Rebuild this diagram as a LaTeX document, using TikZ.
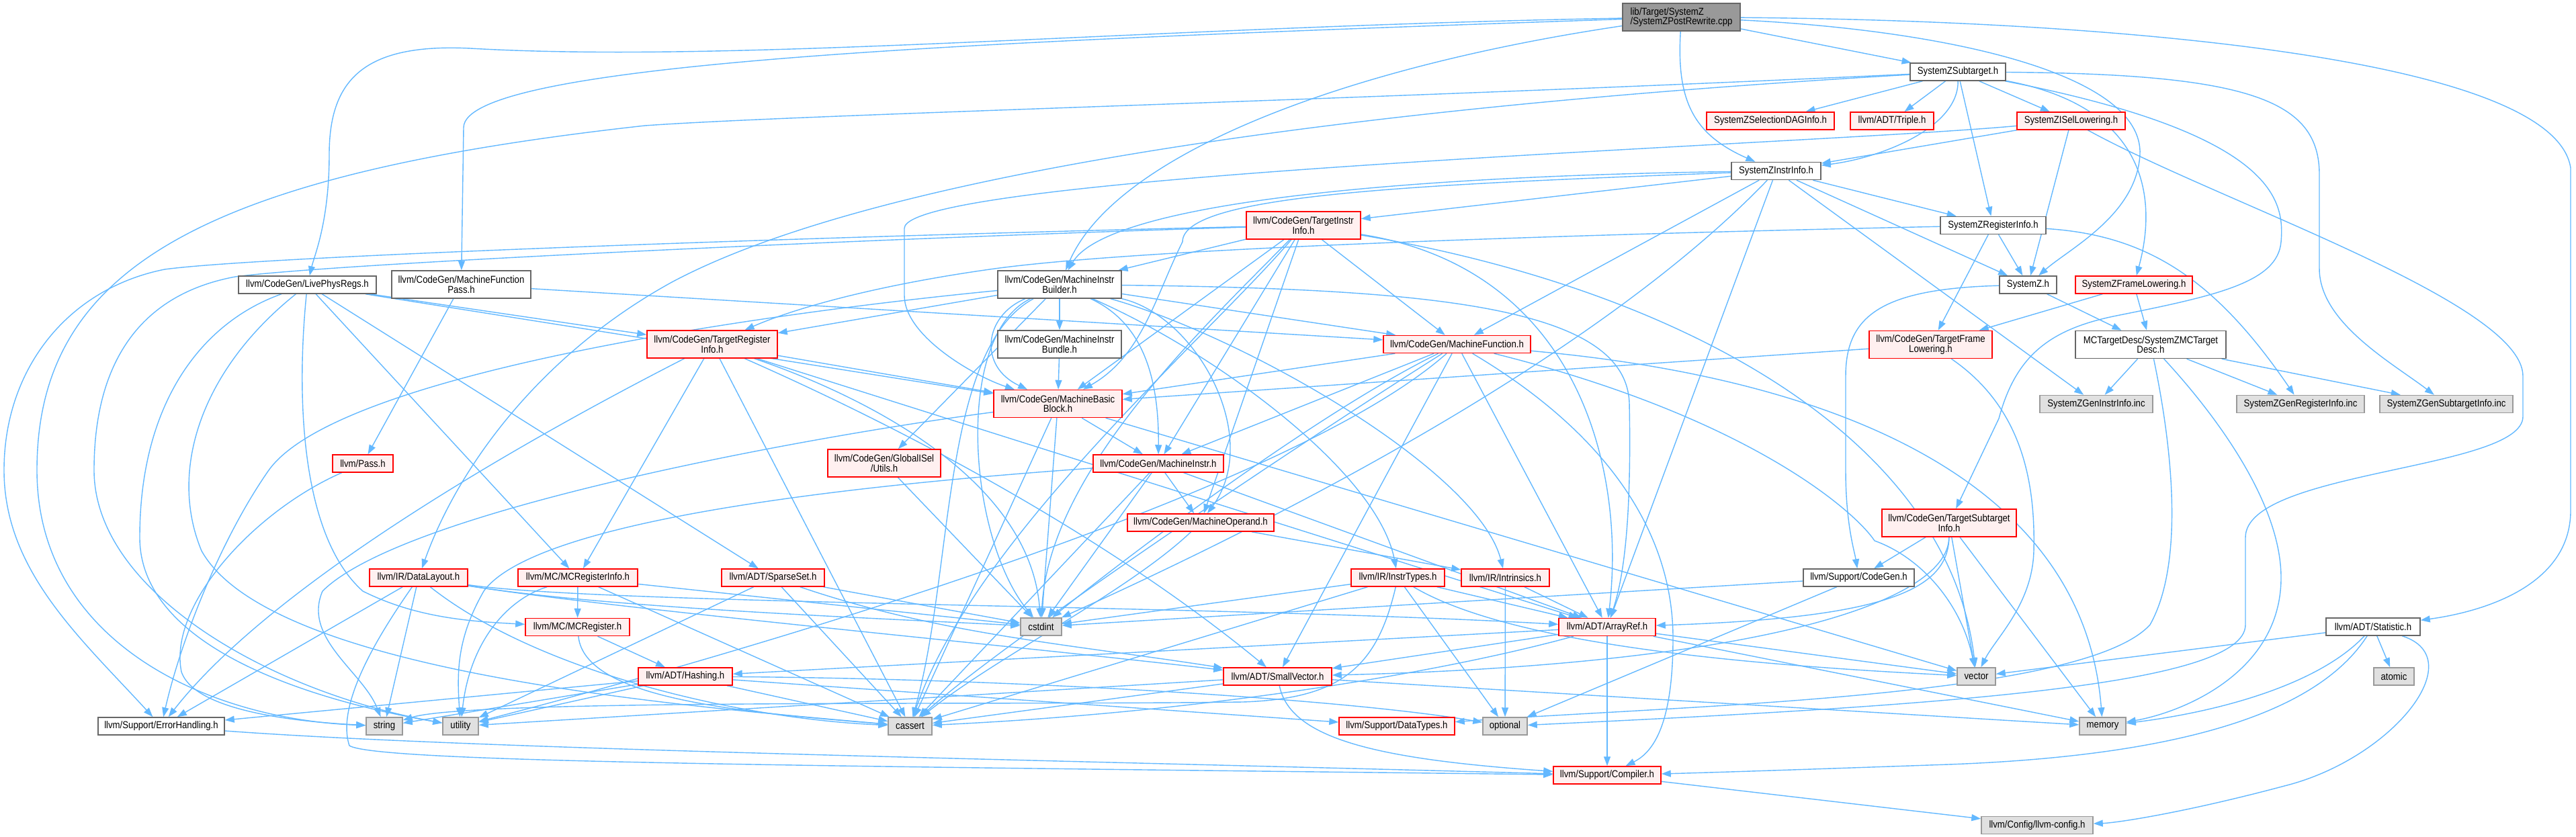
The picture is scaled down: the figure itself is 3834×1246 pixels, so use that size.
\documentclass[tikz,border=0pt]{standalone}
\usepackage{fontspec}
\setmainfont{Liberation Sans}[FakeStretch=0.88]
\usetikzlibrary{arrows.meta}
\pgfdeclarelayer{bg}
\pgfsetlayers{bg,main}
\definecolor{cedge}{HTML}{63B8FF}
\definecolor{cgrayline}{HTML}{666666}
\definecolor{credfill}{HTML}{FFF0F0}
\definecolor{csysfill}{HTML}{E0E0E0}
\definecolor{csysline}{HTML}{999999}
\definecolor{crootfill}{HTML}{999999}
\tikzset{
  nbase/.style={draw, line width=1.5pt, inner sep=0pt, minimum height=26pt,
    font=\fontsize{15}{14.5}\selectfont, align=center, text=black},
  nwhite/.style={nbase, draw=cgrayline, fill=white, minimum width=#1pt},
  nred/.style={nbase, draw=red, fill=credfill, minimum width=#1pt},
  nsys/.style={nbase, draw=csysline, fill=csysfill, minimum width=#1pt},
  nroot/.style={nbase, draw=cgrayline, fill=crootfill, minimum width=#1pt},
  tall/.style={minimum height=41pt},
  dep/.style={draw=cedge, line width=1.4pt, -{Triangle[length=14pt,width=10pt]}}
}
\begin{document}
\begin{tikzpicture}[x=1pt,y=-1pt]
\useasboundingbox (0,0) rectangle (3834,1246);
% ---------------- nodes ----------------
\node[nroot=175,tall,align=left] (root) at (2502.5,25.5) {lib/Target/SystemZ\\/SystemZPostRewrite.cpp};
\node[nwhite=142] (sub) at (2914,107) {SystemZSubtarget.h};
\node[nred=190] (seldag) at (2635,180) {SystemZSelectionDAGInfo.h};
\node[nred=124] (triple) at (2816,180) {llvm/ADT/Triple.h};
\node[nred=161] (isel) at (3082.5,180) {SystemZISelLowering.h};
\node[nwhite=133] (instr) at (2643.5,254.5) {SystemZInstrInfo.h};
\node[nred=170,tall] (tii) at (1940,335.5) {llvm/CodeGen/TargetInstr\\Info.h};
\node[nwhite=157] (reginfo) at (2966.5,335.5) {SystemZRegisterInfo.h};
\node[nwhite=205] (lpr) at (457.5,424) {llvm/CodeGen/LivePhysRegs.h};
\node[nwhite=207,tall] (mfp) at (686.5,423.5) {llvm/CodeGen/MachineFunction\\Pass.h};
\node[nwhite=184,tall] (mib) at (1577,423.5) {llvm/CodeGen/MachineInstr\\Builder.h};
\node[nwhite=85] (szh) at (3018.5,424) {SystemZ.h};
\node[nred=174] (frame) at (3176,424) {SystemZFrameLowering.h};
\node[nred=194,tall] (tri) at (1060,512.5) {llvm/CodeGen/TargetRegister\\Info.h};
\node[nwhite=184,tall] (bundle) at (1577,512.5) {llvm/CodeGen/MachineInstr\\Bundle.h};
\node[nred=219] (mf) at (2168.5,512.5) {llvm/CodeGen/MachineFunction.h};
\node[nred=183,tall] (tfl) at (2873.5,513) {llvm/CodeGen/TargetFrame\\Lowering.h};
\node[nwhite=224,tall] (mctd) at (3201,513) {MCTargetDesc/SystemZMCTarget\\Desc.h};
\node[nred=191,tall] (mbb) at (1574.5,601) {llvm/CodeGen/MachineBasic\\Block.h};
\node[nsys=168] (geninstr) at (3120,601.5) {SystemZGenInstrInfo.inc};
\node[nsys=190] (genreg) at (3424,601.5) {SystemZGenRegisterInfo.inc};
\node[nsys=198] (gensub) at (3641,601.5) {SystemZGenSubtargetInfo.inc};
\node[nred=90] (pass) at (540,690) {llvm/Pass.h};
\node[nred=168,tall] (utils) at (1316,689.5) {llvm/CodeGen/GlobalISel\\/Utils.h};
\node[nred=194] (mi) at (1724,690) {llvm/CodeGen/MachineInstr.h};
\node[nred=218] (mo) at (1787,778) {llvm/CodeGen/MachineOperand.h};
\node[nred=200,tall] (tsi) at (2901,778.5) {llvm/CodeGen/TargetSubtarget\\Info.h};
\node[nred=146] (dl) at (623,860) {llvm/IR/DataLayout.h};
\node[nred=178] (mcri) at (860,860) {llvm/MC/MCRegisterInfo.h};
\node[nred=153] (sparse) at (1150.5,860) {llvm/ADT/SparseSet.h};
\node[nred=139] (instrtypes) at (2080.5,860) {llvm/IR/InstrTypes.h};
\node[nred=131] (intrin) at (2240.5,860) {llvm/IR/Intrinsics.h};
\node[nwhite=165] (cgh) at (2766.5,860) {llvm/Support/CodeGen.h};
\node[nred=155] (mcreg) at (859.5,933.5) {llvm/MC/MCRegister.h};
\node[nsys=61] (cstdint) at (1549.5,933) {cstdint};
\node[nred=144] (arrayref) at (2392,933.5) {llvm/ADT/ArrayRef.h};
\node[nwhite=140] (stat) at (3532,933) {llvm/ADT/Statistic.h};
\node[nred=140] (hashing) at (1020,1007) {llvm/ADT/Hashing.h};
\node[nred=161] (smallvec) at (1901.5,1007) {llvm/ADT/SmallVector.h};
\node[nsys=57] (vector) at (2941.5,1007) {vector};
\node[nsys=60] (atomic) at (3563,1007) {atomic};
\node[nwhite=188] (errh) at (240,1081) {llvm/Support/ErrorHandling.h};
\node[nsys=54] (string) at (572,1081) {string};
\node[nsys=53] (utility) at (685.5,1081) {utility};
\node[nsys=65] (cassert) at (1354.5,1081) {cassert};
\node[nred=172] (datatypes) at (2079,1081) {llvm/Support/DataTypes.h};
\node[nsys=66] (optional) at (2240,1081) {optional};
\node[nsys=69] (memory) at (3129.5,1081) {memory};
\node[nred=160] (compiler) at (2392,1154) {llvm/Support/Compiler.h};
\node[nsys=166] (llvmconfig) at (3032,1228.5) {llvm/Config/llvm-config.h};
% ---------------- edges ----------------
\begin{pgfonlayer}{bg}
% root
\draw[dep] (root) .. controls (1700,40) and (1100,95) .. (700,72) .. controls (540,64) and (490,120) .. (490,230) .. controls (490,330) and (468,380) .. (lpr);
\draw[dep] (root) .. controls (1500,60) and (690,90) .. (690,190) -- (mfp);
\draw[dep] (root) .. controls (2000,100) and (1660,230) .. (mib);
\draw[dep] (root) .. controls (2495,150) and (2520,200) .. (instr);
\draw[dep] (root) -- (sub);
\draw[dep] (root) .. controls (2900,45) and (3190,110) .. (3185,230) .. controls (3180,320) and (3080,370) .. (szh);
\draw[dep] (root) .. controls (3100,30) and (3800,80) .. (3826,250) -- (3826,760) .. controls (3826,870) and (3700,910) .. (stat);
% subtarget
\draw[dep] (sub) -- (seldag);
\draw[dep] (sub) -- (triple);
\draw[dep] (sub) -- (isel);
\draw[dep] (sub) .. controls (2915,190) and (2800,235) .. (instr);
\draw[dep] (sub) -- (reginfo);
\draw[dep] (sub) .. controls (3200,160) and (3210,300) .. (frame);
\draw[dep] (sub) .. controls (3390,200) and (3400,300) .. (3395,360) .. controls (3390,420) and (3300,440) .. (3150,470) .. controls (3050,490) and (3000,530) .. (2975,623) -- (tsi);
\draw[dep] (sub) .. controls (2000,160) and (1300,260) .. (1000,420) .. controls (800,530) and (680,700) .. (dl);
\draw[dep] (sub) .. controls (2000,150) and (1200,170) .. (960,187) .. controls (300,260) and (55,400) .. (55,700) .. controls (55,950) and (300,1070) .. (string);
\draw[dep] (sub) .. controls (3350,110) and (3452,150) .. (3452,260) -- (3452,400) .. controls (3452,480) and (3560,540) .. (gensub);
% isel
\draw[dep] (isel) -- (instr);
\draw[dep] (isel) -- (szh);
\draw[dep] (isel) .. controls (2700,215) and (1346,260) .. (1346,340) -- (1346,440) .. controls (1346,500) and (1450,560) .. (mbb);
\draw[dep] (isel) .. controls (3300,300) and (3755,450) .. (3755,560) -- (3755,620) .. controls (3755,700) and (3342,700) .. (3342,800) -- (3342,930) .. controls (3342,1020) and (2900,1050) .. (optional);
% instrinfo
\draw[dep] (instr) -- (tii);
\draw[dep] (instr) .. controls (2100,262) and (1650,300) .. (mib);
\draw[dep] (instr) .. controls (2100,275) and (1760,290) .. (1760,360) .. controls (1720,440) and (1700,530) .. (mbb);
\draw[dep] (instr) -- (mf);
\draw[dep] (instr) -- (reginfo);
\draw[dep] (instr) -- (szh);
\draw[dep] (instr) -- (arrayref);
\draw[dep] (instr) .. controls (2350,560) and (1800,820) .. (cstdint);
\draw[dep] (instr) -- (geninstr);
% target instr info
\draw[dep] (tii) -- (mib);
\draw[dep] (tii) -- (mbb);
\draw[dep] (tii) -- (mf);
\draw[dep] (tii) -- (mi);
\draw[dep] (tii) -- (mo);
\draw[dep] (tii) .. controls (2350,400) and (2420,700) .. (arrayref);
\draw[dep] (tii) .. controls (2500,430) and (2900,650) .. (vector);
\draw[dep] (tii) .. controls (1300,350) and (400,380) .. (245,401) .. controls (100,430) and (6,550) .. (6,700) .. controls (6,850) and (120,950) .. (errh);
\draw[dep] (tii) .. controls (1300,355) and (500,392) .. (350,412) .. controls (200,440) and (140,550) .. (140,700) .. controls (140,880) and (400,1030) .. (utility);
\draw[dep] (tii) .. controls (1800,500) and (1450,800) .. (cassert);
\draw[dep] (tii) .. controls (1800,480) and (1560,700) .. (cstdint);
% register info
\draw[dep] (reginfo) -- (szh);
\draw[dep] (reginfo) -- (tfl);
\draw[dep] (reginfo) .. controls (2300,350) and (1700,370) .. (1480,400) .. controls (1300,425) and (1180,460) .. (tri);
\draw[dep] (reginfo) .. controls (3200,350) and (3300,420) .. (genreg);
% live phys regs
\draw[dep] (lpr) -- (sparse);
\draw[dep] (lpr) -- (mbb);
\draw[dep] (lpr) -- (tri);
\draw[dep] (lpr) .. controls (440,600) and (450,800) .. (540,880) .. controls (620,920) and (700,925) .. (mcreg);
\draw[dep] (lpr) -- (mcri);
\draw[dep] (lpr) .. controls (300,550) and (250,700) .. (300,820) .. controls (400,1000) and (1000,1050) .. (cassert);
\draw[dep] (lpr) .. controls (300,480) and (208,600) .. (208,800) .. controls (208,960) and (450,1040) .. (utility);
% machine function pass
\draw[dep] (mfp) -- (mf);
\draw[dep] (mfp) -- (pass);
\draw[dep] (pass) .. controls (380,760) and (250,900) .. (270,1000) .. controls (290,1060) and (450,1075) .. (string);
% machine instr builder
\draw[dep] (mib) .. controls (2150,430) and (2420,460) .. (2425,600) .. controls (2428,750) and (2420,850) .. (arrayref);
\draw[dep] (mib) -- (utils);
\draw[dep] (mib) .. controls (1465,470) and (1455,545) .. (mbb);
\draw[dep] (mib) -- (mf);
\draw[dep] (mib) .. controls (1700,480) and (1725,560) .. (mi);
\draw[dep] (mib) -- (bundle);
\draw[dep] (mib) .. controls (1780,470) and (1880,650) .. (mo);
\draw[dep] (mib) -- (tri);
\draw[dep] (mib) .. controls (1800,520) and (2050,700) .. (instrtypes);
\draw[dep] (mib) .. controls (1850,500) and (2200,700) .. (intrin);
\draw[dep] (mib) .. controls (1100,470) and (500,560) .. (400,700) .. controls (330,800) and (270,950) .. (errh);
\draw[dep] (mib) .. controls (1400,520) and (1420,850) .. (cassert);
\draw[dep] (mib) .. controls (1420,500) and (1440,800) .. (cstdint);
\draw[dep] (bundle) -- (mbb);
% SystemZ.h and frame lowering
\draw[dep] (szh) -- (mctd);
\draw[dep] (szh) .. controls (2800,430) and (2747,470) .. (2747,560) -- (2747,700) .. controls (2747,780) and (2760,820) .. (cgh);
\draw[dep] (frame) -- (tfl);
\draw[dep] (frame) -- (mctd);
% target register info
\draw[dep] (tri) -- (arrayref);
\draw[dep] (tri) .. controls (1350,640) and (1650,800) .. (smallvec);
\draw[dep] (tri) -- (mbb);
\draw[dep] (tri) -- (mcri);
\draw[dep] (tri) .. controls (850,620) and (420,850) .. (errh);
\draw[dep] (tri) -- (cassert);
\draw[dep] (tri) .. controls (1200,560) and (1530,680) .. (cstdint);
% machine function
\draw[dep] (mf) -- (arrayref);
\draw[dep] (mf) -- (smallvec);
\draw[dep] (mf) -- (mbb);
\draw[dep] (mf) -- (mi);
\draw[dep] (mf) .. controls (2400,650) and (2490,800) .. (2490,950) .. controls (2490,1080) and (2460,1120) .. (compiler);
\draw[dep] (mf) .. controls (1950,650) and (1500,950) .. (cassert);
\draw[dep] (mf) .. controls (1950,620) and (1650,850) .. (cstdint);
\draw[dep] (mf) .. controls (2700,560) and (3100,700) .. (memory);
\draw[dep] (mf) .. controls (1900,750) and (1000,1000) .. (utility);
\draw[dep] (mf) .. controls (2600,620) and (2760,760) .. (2790,805) .. controls (2860,830) and (2920,900) .. (vector);
% target frame lowering
\draw[dep] (tfl) -- (mbb);
\draw[dep] (tfl) .. controls (3000,600) and (3030,700) .. (3027,820) .. controls (3025,900) and (2970,950) .. (vector);
% MC target desc
\draw[dep] (mctd) -- (geninstr);
\draw[dep] (mctd) -- (genreg);
\draw[dep] (mctd) -- (gensub);
\draw[dep] (mctd) .. controls (3300,620) and (3395,750) .. (3395,860) .. controls (3395,1000) and (3250,1060) .. (memory);
\draw[dep] (mctd) .. controls (3240,700) and (3245,850) .. (3200,930) .. controls (3100,1040) and (2500,1050) .. (datatypes);
% machine basic block
\draw[dep] (mbb) -- (mi);
\draw[dep] (mbb) -- (cassert);
\draw[dep] (mbb) -- (cstdint);
\draw[dep] (mbb) .. controls (1200,650) and (600,760) .. (480,880) .. controls (450,950) and (540,1000) .. (string);
\draw[dep] (mbb) -- (vector);
\draw[dep] (utils) -- (cstdint);
% machine instr
\draw[dep] (mi) -- (mo);
\draw[dep] (mi) -- (arrayref);
\draw[dep] (mi) -- (cassert);
\draw[dep] (mi) -- (cstdint);
\draw[dep] (mi) .. controls (1300,720) and (800,770) .. (720,880) .. controls (680,950) and (680,1000) .. (utility);
% machine operand
\draw[dep] (mo) -- (intrin);
\draw[dep] (mo) .. controls (1680,880) and (1480,980) .. (cassert);
% target subtarget info
\draw[dep] (tsi) -- (cgh);
\draw[dep] (tsi) .. controls (2900,880) and (2800,920) .. (arrayref);
\draw[dep] (tsi) .. controls (2900,900) and (2600,990) .. (smallvec);
\draw[dep] (tsi) -- (memory);
\draw[dep] (tsi) -- (vector);
% data layout
\draw[dep] (dl) .. controls (900,900) and (1800,900) .. (arrayref);
\draw[dep] (dl) .. controls (900,905) and (1500,960) .. (smallvec);
\draw[dep] (dl) .. controls (560,950) and (500,1050) .. (520,1110) .. controls (560,1135) and (1200,1140) .. (compiler);
\draw[dep] (dl) -- (errh);
\draw[dep] (dl) .. controls (800,1000) and (1100,1070) .. (cassert);
\draw[dep] (dl) .. controls (900,905) and (1300,920) .. (cstdint);
\draw[dep] (dl) -- (string);
% MC register info
\draw[dep] (mcri) -- (mcreg);
\draw[dep] (mcri) -- (cassert);
\draw[dep] (mcri) -- (cstdint);
\draw[dep] (mcri) .. controls (760,890) and (700,950) .. (utility);
% sparse set
\draw[dep] (sparse) .. controls (1400,945) and (1600,960) .. (smallvec);
\draw[dep] (sparse) -- (cassert);
\draw[dep] (sparse) -- (cstdint);
\draw[dep] (sparse) -- (utility);
% instr types
\draw[dep] (instrtypes) -- (arrayref);
\draw[dep] (instrtypes) -- (cassert);
\draw[dep] (instrtypes) -- (cstdint);
\draw[dep] (instrtypes) -- (optional);
\draw[dep] (instrtypes) .. controls (2050,990) and (2000,1040) .. (1850,1045) .. controls (1500,1050) and (700,1040) .. (string);
\draw[dep] (instrtypes) .. controls (2250,960) and (2600,990) .. (vector);
% intrinsics, codegen
\draw[dep] (intrin) -- (arrayref);
\draw[dep] (intrin) -- (optional);
\draw[dep] (cgh) -- (cstdint);
\draw[dep] (cgh) -- (optional);
% MC register
\draw[dep] (mcreg) -- (hashing);
\draw[dep] (mcreg) .. controls (870,1040) and (1100,1060) .. (cassert);
% array ref
\draw[dep] (arrayref) -- (hashing);
\draw[dep] (arrayref) -- (smallvec);
\draw[dep] (arrayref) -- (compiler);
\draw[dep] (arrayref) .. controls (2150,1000) and (1800,1060) .. (cassert);
\draw[dep] (arrayref) -- (memory);
\draw[dep] (arrayref) -- (vector);
% statistic
\draw[dep] (stat) .. controls (3680,980) and (3560,1130) .. (3400,1170) .. controls (3250,1210) and (3150,1225) .. (llvmconfig);
\draw[dep] (stat) .. controls (3450,1060) and (3250,1125) .. (2900,1138) .. controls (2700,1145) and (2550,1150) .. (compiler);
\draw[dep] (stat) -- (atomic);
\draw[dep] (stat) .. controls (3450,1020) and (3300,1060) .. (memory);
\draw[dep] (stat) -- (vector);
% hashing
\draw[dep] (hashing) -- (datatypes);
\draw[dep] (hashing) -- (errh);
\draw[dep] (hashing) -- (cassert);
\draw[dep] (hashing) .. controls (1500,1010) and (2000,1040) .. (optional);
\draw[dep] (hashing) -- (string);
\draw[dep] (hashing) -- (utility);
% small vector
\draw[dep] (smallvec) .. controls (1920,1100) and (2050,1130) .. (compiler);
\draw[dep] (smallvec) -- (cassert);
\draw[dep] (smallvec) -- (memory);
\draw[dep] (smallvec) -- (utility);
% error handling, compiler
\draw[dep] (errh) .. controls (700,1115) and (1500,1130) .. (compiler);
\draw[dep] (compiler) -- (llvmconfig);
\end{pgfonlayer}
\end{tikzpicture}
\end{document}
